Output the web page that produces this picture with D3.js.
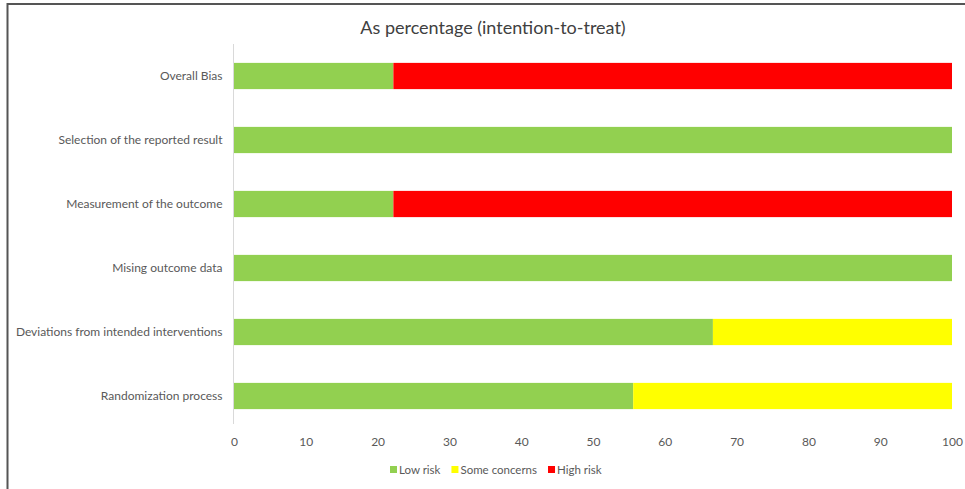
<!DOCTYPE html>
<html><head><meta charset="utf-8">
<script src="https://cdn.jsdelivr.net/npm/d3@7/dist/d3.min.js"></script>
<style>body{margin:0;background:#fff;} svg{display:block;}</style>
</head><body>
<svg id="c" width="965" height="489"></svg>
<script>
const categories = ["Overall Bias","Selection of the reported result","Measurement of the outcome","Mising outcome data","Deviations from intended interventions","Randomization process"];
const lowRisk = [22.2, 100, 22.2, 100, 66.7, 55.6];
const someConcerns = [0, 0, 0, 0, 33.3, 44.4];
const highRisk = [77.8, 0, 77.8, 0, 0, 0];
const seriesNames = ["Low risk","Some concerns","High risk"];
const seriesColors = ["#92D050","#FFFF00","#FF0000"];
const xTicks = [0,10,20,30,40,50,60,70,80,90,100];
const title = "As percentage (intention-to-treat)";

const font = "Lato, 'Open Sans', sans-serif";
const svg = d3.select("#c");
// frame
svg.append("line").attr("x1",7).attr("x2",965).attr("y1",4).attr("y2",4).attr("stroke","#555").attr("stroke-width",2);
svg.append("line").attr("x1",7.5).attr("x2",7.5).attr("y1",3).attr("y2",489).attr("stroke","#555").attr("stroke-width",2);

const x = d3.scaleLinear().domain([0,100]).range([234,952]);
const y = d3.scaleBand().domain(categories).range([44,428]).paddingInner(0.59).paddingOuter(0.295);

const table = categories.map((c,i)=>({cat:c, "Low risk":lowRisk[i], "Some concerns":someConcerns[i], "High risk":highRisk[i]}));
const stack = d3.stack().keys(seriesNames)(table);

svg.append("text").attr("x",493).attr("y",34).attr("text-anchor","middle")
  .attr("font-family",font).attr("font-size",18).attr("fill","#404040").text(title);

// y axis line
svg.append("line").attr("x1",233.5).attr("x2",233.5).attr("y1",44).attr("y2",424).attr("stroke","#d9d9d9");

stack.forEach((s,si)=>{
  svg.append("g").selectAll("rect").data(s).join("rect")
    .attr("x",d=>x(d[0])).attr("width",d=>x(d[1])-x(d[0]))
    .attr("y",d=>y(d.data.cat)).attr("height",y.bandwidth())
    .attr("fill",seriesColors[si]);
});

const yAxis = svg.append("g").attr("transform","translate(233.5,0)").call(d3.axisLeft(y).tickSize(0).tickPadding(11));
yAxis.select(".domain").remove();
yAxis.selectAll("text").attr("font-family",font).attr("font-size",12).attr("fill","#595959");

const xAxis = svg.append("g").attr("transform","translate(0,428)").call(d3.axisBottom(x).tickValues(xTicks).tickSize(0).tickPadding(9));
xAxis.select(".domain").remove();
xAxis.selectAll("text").attr("font-family",font).attr("font-size",12).attr("fill","#595959");

// legend laid out sequentially, centred
const lg = svg.append("g");
let cx = 0;
seriesNames.forEach((n,i)=>{
  lg.append("rect").attr("x",cx).attr("y",466).attr("width",7).attr("height",7).attr("fill",seriesColors[i]);
  const t = lg.append("text").attr("x",cx+9).attr("y",474).attr("font-family",font).attr("font-size",11.5).attr("fill","#595959").text(n);
  cx += 9 + t.node().getComputedTextLength() + 11;
});
const totalW = cx - 11;
lg.attr("transform",`translate(${Math.round(496 - totalW/2)},0)`);
</script>
</body></html>
